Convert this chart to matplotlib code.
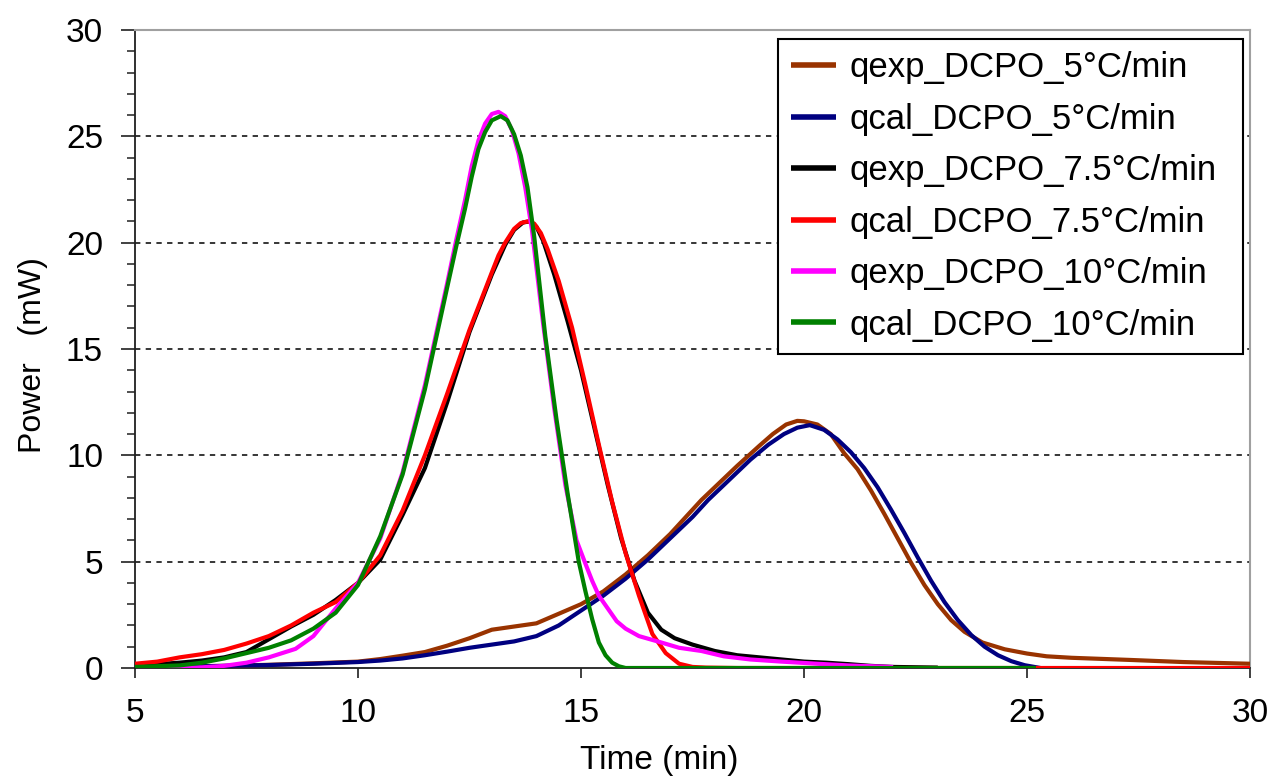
import matplotlib
matplotlib.use("Agg")
import matplotlib.pyplot as plt
from matplotlib.ticker import MultipleLocator

plt.rcParams['font.family'] = ['Liberation Sans', 'DejaVu Sans']

# ---------------- data ----------------
t_qexp5 = [5, 6, 7, 8, 9, 10, 10.5, 11, 11.5, 12, 12.5, 13, 13.5, 14, 14.5, 15, 15.5, 16,
           16.5, 17, 17.7, 18.0, 18.5, 19.0, 19.3, 19.6, 19.85, 20.0, 20.3, 20.6, 20.9,
           21.2, 21.5, 21.8, 22.1, 22.4, 22.7, 23.0, 23.3, 23.6, 24.0, 24.5, 25.0, 25.44,
           26, 27.3, 28.5, 30]
p_qexp5 = [0.05, 0.08, 0.1, 0.15, 0.22, 0.3, 0.42, 0.58, 0.75, 1.05, 1.4, 1.8, 1.95, 2.1,
           2.55, 3.0, 3.6, 4.4, 5.3, 6.3, 7.9, 8.5, 9.5, 10.45, 11.0, 11.45, 11.62, 11.6,
           11.45, 11.0, 10.1, 9.35, 8.35, 7.25, 6.1, 4.95, 3.9, 3.0, 2.25, 1.7, 1.2, 0.88,
           0.68, 0.55, 0.48, 0.38, 0.28, 0.2]

t_qcal5 = [5, 6, 7, 8, 9, 10, 10.5, 11, 11.5, 12, 12.5, 13, 13.5, 14, 14.5, 15, 15.5, 16,
           16.5, 17, 17.5, 17.85, 18.3, 18.8, 19.2, 19.55, 19.85, 20.13, 20.45, 20.75,
           21.05, 21.35, 21.65, 21.95, 22.25, 22.55, 22.85, 23.15, 23.45, 23.75, 24.05,
           24.35, 24.65, 24.95, 25.3]
p_qcal5 = [0.03, 0.06, 0.1, 0.14, 0.2, 0.28, 0.35, 0.45, 0.6, 0.77, 0.95, 1.1, 1.25, 1.5,
           2.0, 2.7, 3.4, 4.2, 5.1, 6.1, 7.1, 7.9, 8.8, 9.8, 10.5, 11.0, 11.3, 11.42, 11.2,
           10.75, 10.15, 9.4, 8.5, 7.45, 6.35, 5.2, 4.1, 3.1, 2.25, 1.55, 1.0, 0.6, 0.32,
           0.13, 0.0]

t_qexp75 = [5, 5.5, 6, 6.5, 7, 7.5, 8, 8.5, 9, 9.5, 10, 10.5, 11, 11.5, 12, 12.5, 13, 13.3,
            13.5, 13.7, 13.85, 14.0, 14.15, 14.4, 14.7, 15.0, 15.3, 15.6, 15.9, 16.2, 16.5,
            16.8, 17.1, 17.5, 18, 18.5, 19, 19.5, 20, 20.5, 21, 21.5, 22, 23]
p_qexp75 = [0.12, 0.18, 0.25, 0.35, 0.5, 0.75, 1.35, 1.95, 2.5, 3.2, 4.0, 5.1, 7.2, 9.4,
            12.5, 15.8, 18.5, 19.9, 20.6, 20.95, 21.0, 20.75, 20.1, 18.5, 16.3, 14.0, 11.3,
            8.6, 6.1, 4.1, 2.6, 1.8, 1.4, 1.1, 0.8, 0.6, 0.5, 0.4, 0.3, 0.25, 0.18, 0.1,
            0.05, 0.02]

t_qcal75 = [5, 5.5, 6, 6.5, 7, 7.5, 8, 8.5, 9, 9.5, 10, 10.5, 11, 11.5, 12, 12.5, 13, 13.15,
            13.3, 13.5, 13.65, 13.8, 13.95, 14.1, 14.25, 14.5, 14.8, 15.1, 15.4, 15.7, 16.0,
            16.3, 16.6, 16.9, 17.2, 17.5, 17.8, 18.5, 30]
p_qcal75 = [0.2, 0.3, 0.5, 0.65, 0.85, 1.15, 1.5, 2.0, 2.6, 3.1, 4.0, 5.3, 7.4, 10.0, 12.9,
            15.9, 18.6, 19.4, 20.0, 20.65, 20.92, 21.0, 20.9, 20.45, 19.7, 18.2, 16.0,
            13.3, 10.5, 7.8, 5.4, 3.4, 1.6, 0.7, 0.2, 0.05, 0.02, 0.0, 0.0]

t_qexp10 = [5, 6, 6.5, 7, 7.5, 8, 8.6, 9.0, 9.5, 10, 10.5, 11, 11.5, 12, 12.2, 12.4, 12.55,
            12.7, 12.85, 13.0, 13.15, 13.3, 13.45, 13.6, 13.75, 13.9, 14.15, 14.4, 14.65,
            14.9, 15.1, 15.25, 15.4, 15.6, 15.8, 16.0, 16.3, 16.8, 17.2, 17.7, 18.2, 18.8,
            19.5, 20.3, 21, 22]
p_qexp10 = [0.0, 0.01, 0.03, 0.1, 0.25, 0.5, 0.9, 1.5, 2.8, 4.0, 6.1, 9.2, 13.3, 18.1, 20.1,
            22.0, 23.6, 24.8, 25.6, 26.05, 26.15, 25.95, 25.3, 24.2, 22.6, 20.6, 16.2, 12.2,
            8.6, 6.0, 4.9, 4.1, 3.4, 2.8, 2.2, 1.85, 1.5, 1.2, 0.95, 0.8, 0.55, 0.4, 0.3,
            0.2, 0.12, 0.05]

t_qcal10 = [5, 6, 6.5, 7, 7.5, 8, 8.5, 9, 9.5, 10, 10.5, 11, 11.5, 12, 12.2, 12.4, 12.55,
            12.7, 12.85, 13.0, 13.2, 13.35, 13.5, 13.65, 13.8, 13.95, 14.2, 14.45, 14.7,
            14.95, 15.1, 15.25, 15.4, 15.55, 15.7, 15.85, 16.0, 25.2]
p_qcal10 = [0.05, 0.12, 0.25, 0.45, 0.7, 0.95, 1.3, 1.85, 2.6, 3.9, 6.2, 9.1, 13.1, 17.9,
            19.8, 21.6, 23.1, 24.4, 25.2, 25.75, 25.95, 25.75, 25.1, 24.1, 22.6, 20.3, 15.6,
            11.7, 8.2, 5.0, 3.6, 2.3, 1.2, 0.6, 0.25, 0.08, 0.0, 0.0]

series_labels = ["qexp_DCPO_5°C/min", "qcal_DCPO_5°C/min", "qexp_DCPO_7.5°C/min",
                 "qcal_DCPO_7.5°C/min", "qexp_DCPO_10°C/min", "qcal_DCPO_10°C/min"]
series_colors = ["#993300", "#000080", "#000000", "#FF0000", "#FF00FF", "#008000"]

x_ticks = [5, 10, 15, 20, 25, 30]
y_ticks = [0, 5, 10, 15, 20, 25, 30]
grid_levels = [5, 10, 15, 20, 25]

# ---------------- figure ----------------
fig = plt.figure(figsize=(12.70, 7.78), dpi=100)
ax = fig.add_axes([135 / 1270, 110 / 778, 1115 / 1270, 638 / 778])

for g in grid_levels:
    ax.axhline(g, color="black", lw=1.1, ls=(0, (3.5, 3.5)), zorder=1)

series = [(t_qexp5, p_qexp5), (t_qcal5, p_qcal5), (t_qexp75, p_qexp75),
          (t_qcal75, p_qcal75), (t_qexp10, p_qexp10), (t_qcal10, p_qcal10)]
for (tt, pp), lab, col in zip(series, series_labels, series_colors):
    ax.plot(tt, pp, color=col, lw=3.0, label=lab, solid_joinstyle="round",
            solid_capstyle="butt", zorder=3)

ax.set_xlim(5, 30)
ax.set_ylim(0, 30)
ax.set_xticks(x_ticks)
ax.set_yticks(y_ticks)
ax.yaxis.set_minor_locator(MultipleLocator(1))

for side in ["top", "right"]:
    ax.spines[side].set_color("#a0a0a0")
    ax.spines[side].set_linewidth(1.5)
for side in ["left", "bottom"]:
    ax.spines[side].set_color("#202020")
    ax.spines[side].set_linewidth(1.3)

ax.tick_params(axis="y", which="major", direction="out", length=10, width=1.2,
               pad=13, labelsize=24, color="#202020")
ax.tick_params(axis="y", which="minor", direction="out", length=5.5, width=1.1,
               color="#202020")
ax.tick_params(axis="x", which="major", direction="out", length=7.5, width=1.2,
               pad=14, labelsize=24, color="#202020")

ax.set_xlabel("Time (min)", fontsize=24)
ax.xaxis.set_label_coords(0.470, -0.1583)
ax.xaxis.label.set_va("baseline")
ax.set_ylabel("Power   (mW)", fontsize=23)
ax.yaxis.set_label_coords(-0.0915, 0.49)
ax.yaxis.label.set_va("center")

x0 = (778 - 135) / 1115
x1 = (1243 - 135) / 1115
y1 = (668 - 39) / 638
y0 = (668 - 347) / 638
leg = ax.legend(loc="upper left", bbox_to_anchor=(x0, y0, x1 - x0, y1 - y0),
                mode="expand", fontsize=25, frameon=True, fancybox=False,
                edgecolor="black", framealpha=1, borderpad=0.36, labelspacing=0.53,
                handlelength=1.3, handletextpad=0.4, borderaxespad=0.0)
leg.get_frame().set_linewidth(1.5)
for line in leg.get_lines():
    line.set_linewidth(4)

fig.savefig("out.png", dpi=100)
